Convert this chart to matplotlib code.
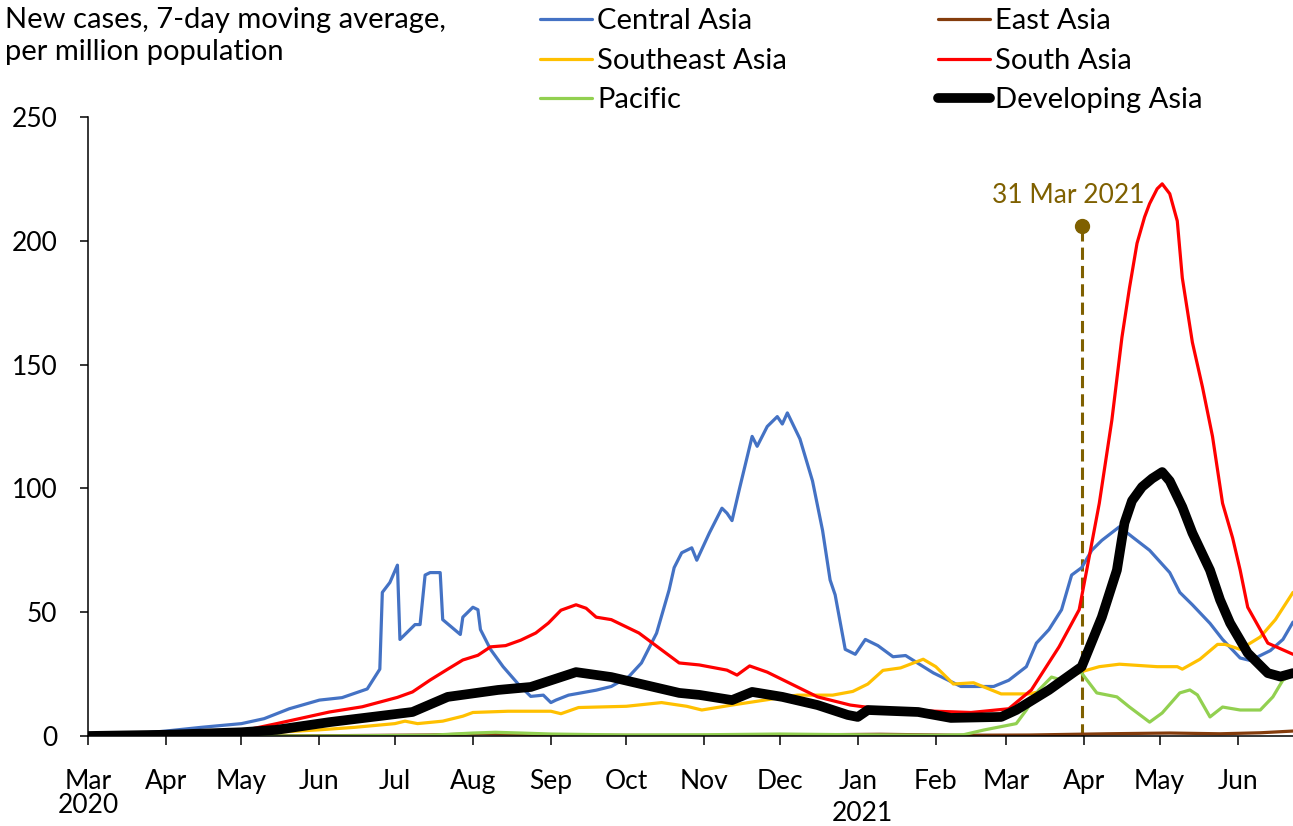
import matplotlib
matplotlib.use("Agg")
import matplotlib.pyplot as plt
import matplotlib.dates as mdates
import pandas as pd

# ==========================
# 字体 / font
# ==========================
plt.rcParams["font.family"] = ["Lato", "DejaVu Sans"]
FS = 19      # tick labels, marker label
FS_T = 21    # axis title and legend

# ==========================
# data
# ==========================
central_dates = [
    "2020-03-01", "2020-03-15", "2020-04-01", "2020-04-15", "2020-05-01", "2020-05-10",
    "2020-05-20", "2020-06-01", "2020-06-10", "2020-06-20", "2020-06-25", "2020-06-26",
    "2020-06-29", "2020-07-02", "2020-07-03", "2020-07-05", "2020-07-09", "2020-07-11",
    "2020-07-13", "2020-07-15", "2020-07-19", "2020-07-20", "2020-07-27", "2020-07-28",
    "2020-08-01", "2020-08-03", "2020-08-04", "2020-08-08", "2020-08-13", "2020-08-19",
    "2020-08-24", "2020-08-29", "2020-09-01", "2020-09-03", "2020-09-08", "2020-09-19",
    "2020-09-25", "2020-10-02", "2020-10-07", "2020-10-13", "2020-10-18", "2020-10-20",
    "2020-10-23", "2020-10-27", "2020-10-29", "2020-11-03", "2020-11-08", "2020-11-10",
    "2020-11-12", "2020-11-15", "2020-11-20", "2020-11-22", "2020-11-26", "2020-11-30",
    "2020-12-02", "2020-12-04", "2020-12-09", "2020-12-14", "2020-12-18", "2020-12-21",
    "2020-12-23", "2020-12-27", "2020-12-31", "2021-01-04", "2021-01-09", "2021-01-15",
    "2021-01-20", "2021-01-31", "2021-02-11", "2021-02-24", "2021-03-02", "2021-03-09",
    "2021-03-13", "2021-03-18", "2021-03-23", "2021-03-27", "2021-03-31", "2021-04-04",
    "2021-04-08", "2021-04-15", "2021-04-20", "2021-04-27", "2021-05-05", "2021-05-09",
    "2021-05-14", "2021-05-21", "2021-05-26", "2021-06-02", "2021-06-06", "2021-06-14",
    "2021-06-19", "2021-06-23",
]
central_vals = [
    0, 0.5, 2, 3.5, 5, 7,
    11, 14.5, 15.5, 19, 27, 58,
    62, 69, 39, 41, 45, 45,
    65, 66, 66, 47, 41, 48,
    52, 51, 43, 35, 28, 21,
    16, 16.5, 13.5, 14.5, 16.5, 18.5,
    20, 24, 29.5, 41.5, 59, 68,
    74, 76, 71, 82, 92, 90,
    87, 100, 121, 117, 125, 129,
    126, 130.5, 120, 103, 83, 63,
    57, 35, 33, 39, 36.5, 32,
    32.5, 25.5, 20, 20, 22.5, 28,
    37.5, 43, 51, 65, 68, 75,
    79, 84.5, 80.5, 75, 66, 58,
    53, 45.5, 39, 31.5, 30.5, 34.5,
    39, 46,
]

east_dates = [
    "2020-03-01", "2020-04-01", "2020-06-01", "2020-07-15", "2020-08-05", "2020-08-20",
    "2020-09-15", "2020-11-01", "2020-12-15", "2021-01-10", "2021-02-10", "2021-03-10",
    "2021-04-10", "2021-05-05", "2021-05-25", "2021-06-10", "2021-06-23",
]
east_vals = [0.3, 0.1, 0.1, 0.4, 0.9, 0.7, 0.3, 0.2, 0.5, 0.7, 0.3, 0.4, 0.9, 1.2, 0.9, 1.3, 2.0]

southeast_dates = [
    "2020-03-01", "2020-04-01", "2020-05-01", "2020-05-15", "2020-06-01", "2020-06-15",
    "2020-07-01", "2020-07-05", "2020-07-10", "2020-07-20", "2020-07-28", "2020-08-01",
    "2020-08-15", "2020-09-01", "2020-09-05", "2020-09-12", "2020-10-01", "2020-10-15",
    "2020-10-25", "2020-10-31", "2020-11-12", "2020-11-25", "2020-12-08", "2020-12-22",
    "2020-12-30", "2021-01-05", "2021-01-11", "2021-01-18", "2021-01-27", "2021-02-01",
    "2021-02-08", "2021-02-16", "2021-02-27", "2021-03-10", "2021-03-17", "2021-03-24",
    "2021-03-31", "2021-04-07", "2021-04-15", "2021-04-30", "2021-05-08", "2021-05-10",
    "2021-05-17", "2021-05-24", "2021-05-27", "2021-06-02", "2021-06-10", "2021-06-16",
    "2021-06-23",
]
southeast_vals = [
    0, 0.3, 1, 1.5, 2.5, 3.5,
    5, 6, 5, 6, 8, 9.5,
    10, 10, 9, 11.5, 12, 13.5,
    12, 10.5, 12.5, 14.5, 16.5, 16.5,
    18, 21, 26.5, 27.5, 31, 28,
    21, 21.5, 17, 17, 18.5, 23,
    26, 28, 29, 28, 28, 27,
    31, 37, 37, 35, 40, 47,
    58,
]

south_dates = [
    "2020-03-01", "2020-04-01", "2020-05-01", "2020-05-15", "2020-06-05", "2020-06-18",
    "2020-07-02", "2020-07-08", "2020-07-15", "2020-07-22", "2020-07-28", "2020-08-03",
    "2020-08-08", "2020-08-14", "2020-08-20", "2020-08-26", "2020-08-31", "2020-09-05",
    "2020-09-11", "2020-09-15", "2020-09-19", "2020-09-25", "2020-10-06", "2020-10-22",
    "2020-10-30", "2020-11-10", "2020-11-14", "2020-11-19", "2020-11-26", "2020-12-04",
    "2020-12-16", "2020-12-29", "2021-01-07", "2021-02-01", "2021-02-15", "2021-03-02",
    "2021-03-11", "2021-03-22", "2021-03-30", "2021-04-02", "2021-04-07", "2021-04-12",
    "2021-04-16", "2021-04-19", "2021-04-22", "2021-04-25", "2021-04-27", "2021-04-30",
    "2021-05-02", "2021-05-05", "2021-05-08", "2021-05-10", "2021-05-14", "2021-05-18",
    "2021-05-22", "2021-05-26", "2021-05-30", "2021-06-02", "2021-06-05", "2021-06-13",
    "2021-06-23",
]
south_vals = [
    0, 0.5, 2, 5, 9.7, 11.8,
    15.6, 17.8, 22.6, 27, 30.7, 32.6,
    36, 36.5, 38.7, 41.6, 45.6, 50.8,
    53, 51.6, 48, 47, 41.6, 29.5,
    28.7, 26.6, 24.6, 28.3, 25.8, 21.8,
    15.8, 12.5, 11.3, 10, 9.5, 11,
    18.6, 36, 51, 67, 94, 127.6,
    161, 181, 199, 209.6, 215, 221,
    223, 219, 208, 185, 159, 141,
    121, 94, 80, 67, 52, 37.5,
    33,
]

pacific_dates = [
    "2020-03-01", "2020-06-01", "2020-07-15", "2020-08-01", "2020-08-10", "2020-08-20",
    "2020-09-01", "2020-10-01", "2020-11-01", "2020-12-01", "2021-01-01", "2021-02-01",
    "2021-02-12", "2021-02-20", "2021-03-05", "2021-03-09", "2021-03-14", "2021-03-19",
    "2021-03-23", "2021-03-30", "2021-04-03", "2021-04-06", "2021-04-14", "2021-04-19",
    "2021-04-27", "2021-05-02", "2021-05-09", "2021-05-13", "2021-05-16", "2021-05-21",
    "2021-05-26", "2021-06-02", "2021-06-10", "2021-06-15", "2021-06-19", "2021-06-23",
]
pacific_vals = [
    0, 0, 0.3, 1.2, 1.5, 1.2,
    0.8, 0.4, 0.5, 0.8, 0.5, 0.3,
    0.5, 2.4, 5, 10.5, 18.6, 23.8,
    22.6, 26.7, 21.4, 17.4, 15.8, 11.7,
    5.6, 9.3, 17.4, 18.6, 16.6, 7.7,
    11.7, 10.5, 10.5, 15.8, 22.6, 24.6,
]

developing_dates = [
    "2020-03-01", "2020-04-01", "2020-05-01", "2020-05-15", "2020-06-05", "2020-07-08",
    "2020-07-22", "2020-08-11", "2020-08-24", "2020-09-11", "2020-09-25", "2020-10-22",
    "2020-10-30", "2020-11-12", "2020-11-20", "2020-12-02", "2020-12-16", "2020-12-28",
    "2021-01-01", "2021-01-05", "2021-01-25", "2021-02-07", "2021-02-27", "2021-03-05",
    "2021-03-18", "2021-03-31", "2021-04-08", "2021-04-14", "2021-04-17", "2021-04-20",
    "2021-04-24", "2021-04-28", "2021-05-02", "2021-05-05", "2021-05-10", "2021-05-14",
    "2021-05-21", "2021-05-25", "2021-05-29", "2021-06-05", "2021-06-13", "2021-06-18",
    "2021-06-23",
]
developing_vals = [
    0, 0.5, 1.5, 2.5, 5.6, 9.7,
    15.8, 18.6, 19.8, 25.8, 23.8, 17.4,
    16.6, 14.5, 17.8, 15.8, 12.5, 8.5,
    7.7, 10.5, 9.7, 7.3, 7.7, 10.5,
    18.6, 28, 48, 67, 86, 95,
    100.6, 104, 106.6, 103, 92.5, 82,
    67, 55, 45.6, 33.5, 25.4, 24,
    25.4,
]

series = [
    ("Central Asia", central_dates, central_vals, "#4472C4", 2.3),
    ("East Asia", east_dates, east_vals, "#843C0C", 2.3),
    ("Southeast Asia", southeast_dates, southeast_vals, "#FFC000", 2.3),
    ("South Asia", south_dates, south_vals, "#FF0000", 2.3),
    ("Pacific", pacific_dates, pacific_vals, "#92D050", 2.3),
    ("Developing Asia", developing_dates, developing_vals, "#000000", 7),
]

marker_date = "2021-03-31"
marker_value = 206
marker_label = "31 Mar 2021"

# ==========================
# figure
# ==========================
fig = plt.figure(figsize=(12.93, 8.26), dpi=100)
ax = fig.add_axes([88 / 1293, 90 / 826, 1 - 88 / 1293, 619 / 826])

handles = {}
for name, d, v, c, lw in series:
    (ln,) = ax.plot(pd.to_datetime(d), v, color=c, lw=lw, label=name,
                    solid_capstyle="round", solid_joinstyle="round")
    handles[name] = ln

# 31 Mar 2021 marker
md = pd.Timestamp(marker_date)
ax.vlines(md, 0, marker_value, colors="#7F6000", linestyles=(0, (4, 2)), lw=2.2, zorder=1)
ax.plot([md], [marker_value], "o", color="#7F6000", ms=10, zorder=5)
ax.annotate(marker_label, xy=(md, marker_value), xytext=(-10, 22),
            textcoords="offset points", ha="center", va="center",
            fontsize=FS, color="#7F6000")

ax.set_xlim(pd.Timestamp("2020-03-01"), pd.Timestamp("2021-06-23"))
ax.set_ylim(0, 250)
ax.set_yticks([0, 50, 100, 150, 200, 250])

ax.xaxis.set_major_locator(mdates.MonthLocator())
ax.xaxis.set_major_formatter(mdates.DateFormatter("%b"))

for s in ["top", "right"]:
    ax.spines[s].set_visible(False)
for s in ["left", "bottom"]:
    ax.spines[s].set_linewidth(1.1)
    ax.spines[s].set_color("black")

ax.tick_params(axis="x", direction="out", length=6.5, width=1.1, pad=17, labelsize=FS)
ax.tick_params(axis="y", direction="out", length=6, width=1.1, pad=16, labelsize=FS)

# year labels
ax.annotate("2020", xy=(pd.Timestamp("2020-03-01"), 0), xycoords=("data", "axes fraction"),
            xytext=(0, -50), textcoords="offset points", ha="center", va="center",
            fontsize=FS, annotation_clip=False)
ax.annotate("2021", xy=(pd.Timestamp("2021-01-03"), 0), xycoords=("data", "axes fraction"),
            xytext=(0, -56), textcoords="offset points", ha="center", va="center",
            fontsize=FS, annotation_clip=False)

# y title
fig.text(5 / 1293, 1 - 20 / 826, "New cases, 7-day moving average,",
         ha="left", va="center", fontsize=FS_T)
fig.text(5 / 1293, 1 - 52 / 826, "per million population",
         ha="left", va="center", fontsize=FS_T)

# legend (row order like the original)
order = ["Central Asia", "Southeast Asia", "Pacific", "East Asia", "South Asia", "Developing Asia"]
fig.legend([handles[n] for n in order], order, ncol=2, loc="upper left",
           bbox_to_anchor=(540 / 1293, 1 - 8 / 826), frameon=False, fontsize=FS_T,
           handlelength=1.78, handletextpad=0.17, columnspacing=5.2,
           labelspacing=0.47, borderpad=0, borderaxespad=0)

fig.savefig("out.png", dpi=100)
